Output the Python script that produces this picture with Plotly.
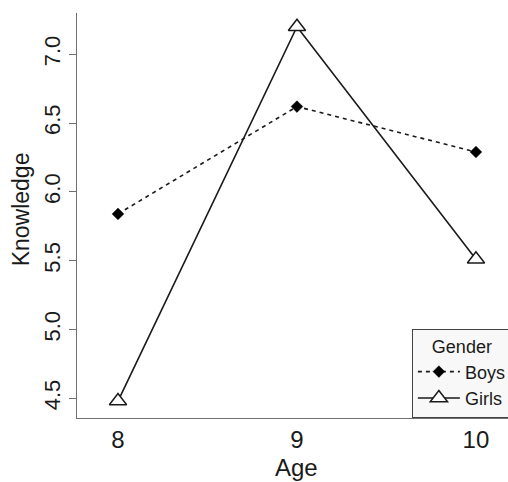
import plotly.graph_objects as go

# Mean knowledge score by age, split by gender
ages = [8, 9, 10]
boys = [5.84, 6.62, 6.29]
girls = [4.48, 7.20, 5.51]
y_ticks = [4.5, 5.0, 5.5, 6.0, 6.5, 7.0]
y_tick_text = ["4.5", "5.0", "5.5", "6.0", "6.5", "7.0"]

FONT = "Liberation Sans, Arial, sans-serif"
INK = "#1a1a1a"
AXIS = "#707070"

fig = go.Figure()

fig.add_trace(go.Scatter(
    x=ages, y=boys, name="Boys", mode="lines+markers",
    line=dict(color=INK, width=1.6, dash="4px,4px"),
    marker=dict(symbol="diamond", size=9, color="black",
                line=dict(color="black", width=0.5)),
))
fig.add_trace(go.Scatter(
    x=ages, y=girls, name="Girls", mode="lines+markers",
    line=dict(color=INK, width=1.6),
    marker=dict(symbol="triangle-up", size=15, color="white",
                line=dict(color=INK, width=1.5)),
))

fig.update_layout(
    width=508, height=482,
    margin=dict(l=77, r=0, t=13, b=64, autoexpand=False),
    paper_bgcolor="white", plot_bgcolor="white",
    font=dict(family=FONT, color=INK),
    showlegend=True,
    legend=dict(
        x=0.777, xanchor="left", y=0, yanchor="bottom",
        bgcolor="#f8f8f8", bordercolor="#444444", borderwidth=1,
        font=dict(size=18, family=FONT, color=INK),
        title=dict(text="Gender", side="top center",
                   font=dict(size=18, family=FONT, color=INK)),
        itemwidth=42, tracegroupgap=0,
    ),
    xaxis=dict(
        range=[7.771, 10.179], tickvals=ages, ticktext=[str(a) for a in ages],
        showgrid=False, zeroline=False, showline=True, linecolor=AXIS,
        linewidth=1.4, ticks="", tickfont=dict(size=24, family=FONT, color=INK),
        ticklabelstandoff=0,
    ),
    yaxis=dict(
        range=[4.357, 7.30], tickvals=y_ticks, ticktext=y_tick_text,
        showgrid=False, zeroline=False, showline=True, linecolor=AXIS,
        linewidth=1.4, ticks="outside", ticklen=7, tickcolor=AXIS, tickwidth=1.4,
        tickangle=-90, tickfont=dict(size=22, family=FONT, color=INK),
        ticklabelstandoff=0,
    ),
    annotations=[
        dict(text="Age", xref="paper", yref="paper", x=0.509, y=-0.121,
             xanchor="center", yanchor="middle", showarrow=False,
             font=dict(size=24, family=FONT, color=INK)),
        dict(text="Knowledge", xref="paper", yref="paper", x=-0.131, y=0.514,
             xanchor="center", yanchor="middle", textangle=-90, showarrow=False,
             font=dict(size=23, family=FONT, color=INK)),
    ],
)

fig.write_html("out.html")
